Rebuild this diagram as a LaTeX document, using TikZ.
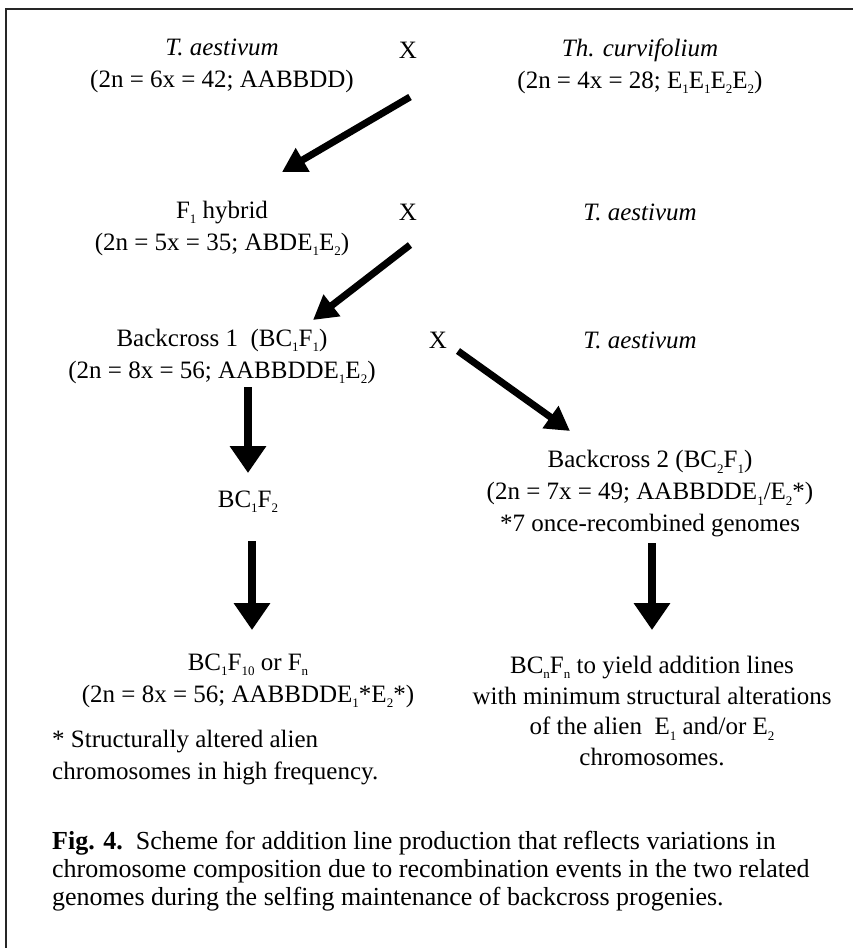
\documentclass[tikz,border=0pt]{standalone}
\usepackage{fontspec}
\setmainfont{Liberation Serif}
\usetikzlibrary{arrows.meta}
\newcommand{\sbx}[1]{\raisebox{-0.45ex}{\fontsize{13}{13}\selectfont #1}}
\tikzset{
  txt/.style={align=center, inner sep=0pt, font=\fontsize{25}{32}\selectfont},
  big/.style={line width=8pt, -{Triangle[length=27pt,width=35pt]}},
  diag/.style={line width=7pt, -{Triangle[length=24pt,width=26pt]}},
}
\begin{document}
\begin{tikzpicture}[x=1pt,y=-1pt]
\useasboundingbox (0,0) rectangle (853,948);
\draw[line width=2.5pt, draw=black!85] (6,960) -- (6,9) -- (870,9);

\node[txt] (ta) at (222,66) {\textit{T. aestivum}\\(2n = 6x = 42; AABBDD)};
\node[txt] (x1) at (408,50) {X};
\node[txt] (tc) at (640,66) {\textit{Th. curvifolium}\\(2n = 4x = 28; E\sbx{1}E\sbx{1}E\sbx{2}E\sbx{2})};

\node[txt] (f1) at (222,228) {F\sbx{1} hybrid\\(2n = 5x = 35; ABDE\sbx{1}E\sbx{2})};
\node[txt] (x2) at (408,212) {X};
\node[txt] (ta2) at (640,212) {\textit{T. aestivum}};

\node[txt] (bc1) at (222,356) {Backcross 1\ \ (BC\sbx{1}F\sbx{1})\\(2n = 8x = 56; AABBDDE\sbx{1}E\sbx{2})};
\node[txt] (x3) at (438,340) {X};
\node[txt] (ta3) at (640,340) {\textit{T. aestivum}};

\node[txt] (bc1f2) at (248,502) {BC\sbx{1}F\sbx{2}};
\node[txt] (bc2) at (650,494) {Backcross 2 (BC\sbx{2}F\sbx{1})\\(2n = 7x = 49; AABBDDE\sbx{1}/E\sbx{2}*)\\*7 once-recombined genomes};

\node[txt] (bc1f10) at (248,681) {BC\sbx{1}F\sbx{10} or F\sbx{n}\\(2n = 8x = 56; AABBDDE\sbx{1}*E\sbx{2}*)};
\node[txt, align=left, anchor=west] (note) at (52,758) {* Structurally altered alien\\chromosomes in high frequency.};
\node[txt, font=\fontsize{25}{30.7}\selectfont] (bcn) at (652,711) {BC\sbx{n}F\sbx{n} to yield addition lines\\with minimum structural alterations\\of the alien\ \ E\sbx{1} and/or E\sbx{2}\\chromosomes.};

\node[txt, align=left, anchor=west, font=\fontsize{26}{28}\selectfont] (cap) at (52,871) {\textbf{Fig. 4.}\ \ Scheme for addition line production that reflects variations in\\chromosome composition due to recombination events in the two related\\genomes during the selfing maintenance of backcross progenies.};

\coordinate (a1s) at (410,97);
\coordinate (a1e) at (282,172);
\coordinate (a2s) at (410,245);
\coordinate (a2e) at (313,320);
\coordinate (a3s) at (458,351);
\coordinate (a3e) at (570,431);
\coordinate (a4s) at (248,387);
\coordinate (a4e) at (248,473);
\coordinate (a5s) at (252,541);
\coordinate (a5e) at (252,630);
\coordinate (a6s) at (652,543);
\coordinate (a6e) at (652,630);

\draw[diag] (a1s) -- (a1e);
\draw[diag] (a2s) -- (a2e);
\draw[diag] (a3s) -- (a3e);
\draw[big] (a4s) -- (a4e);
\draw[big] (a5s) -- (a5e);
\draw[big] (a6s) -- (a6e);
\end{tikzpicture}
\end{document}
